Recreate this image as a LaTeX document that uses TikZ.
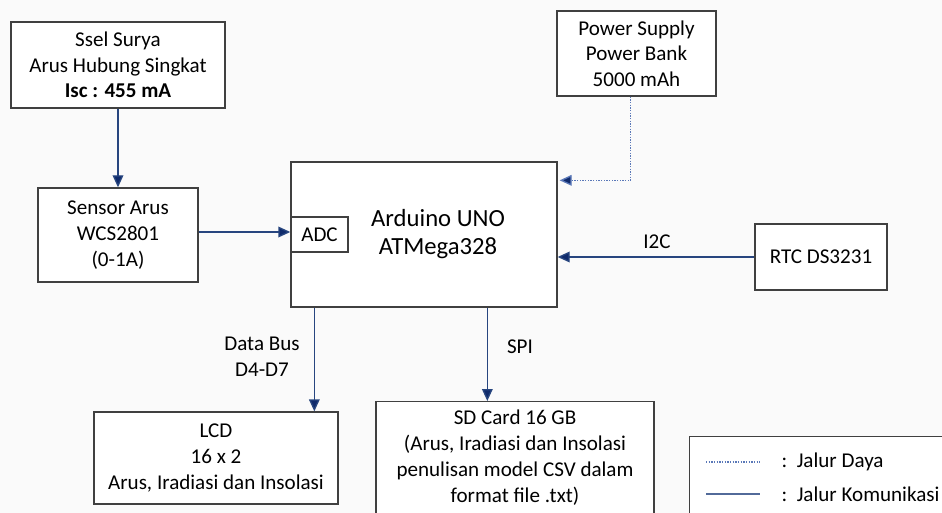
\documentclass[tikz,border=0pt]{standalone}
\usepackage{fontspec}
\setmainfont{Carlito}
\usetikzlibrary{arrows.meta, positioning, calc}
\definecolor{cnavy}{HTML}{0F2A6B}
\definecolor{cline}{HTML}{27457F}
\definecolor{cdot}{HTML}{5A78B8}
\definecolor{cgrey}{HTML}{404040}
\tikzset{
  every picture/.style={font=\fontsize{15.8}{19.3}\selectfont},
  box/.style={draw=cgrey, fill=white, line width=1pt, align=center, inner sep=2pt},
  arrow/.style={-{Triangle[length=9pt, width=8pt, fill=cnavy]}, draw=cline, line width=1pt},
  power/.style={-{Triangle[length=9pt, width=8pt, fill=cnavy]}, draw=cdot, line width=1pt, densely dotted},
  note/.style={align=center, inner sep=1pt},
}
\begin{document}
\begin{tikzpicture}[x=0.75pt, y=-0.75pt]
  \clip (0,0) rectangle (942,513);
  \fill[black!2] (0,0) rectangle (942,513);
  % blocks
  \node[box, minimum width=214*0.75pt, minimum height=86*0.75pt] (ssel) at (118,65)
    {Ssel Surya\\ Arus Hubung Singkat\\ \textbf{Isc : 455 mA}};
  \node[box, minimum width=160*0.75pt, minimum height=94*0.75pt] (sensor) at (118,235)
    {Sensor Arus\\ WCS2801\\ (0-1A)};
  \node[box, minimum width=266*0.75pt, minimum height=145*0.75pt] (ard) at (424,234.5) {};
  \node[note, font=\fontsize{18.5}{21}\selectfont] (ardtxt) at (438,234) {Arduino UNO\\ ATMega328};
  \node[box, minimum width=57*0.75pt, minimum height=35*0.75pt] (adc) at (319.5,234.5) {ADC};
  \node[box, minimum width=159*0.75pt, minimum height=85*0.75pt] (pwr) at (636.5,53.5)
    {Power Supply\\ Power Bank\\ 5000 mAh};
  \node[box, minimum width=132*0.75pt, minimum height=66*0.75pt] (rtc) at (821,257) {RTC DS3231};
  \node[box, minimum width=244*0.75pt, minimum height=92*0.75pt] (lcd) at (216,458)
    {LCD\\ 16 x 2\\ Arus, Iradiasi dan Insolasi};
  \node[box, minimum width=278*0.75pt, minimum height=124*0.75pt, anchor=north] (sd) at (515,401) {};
  \node[note, anchor=north, font=\fontsize{15.8}{19.6}\selectfont] (sdtxt) at (515,408)
    {SD Card 16 GB\\ (Arus, Iradiasi dan Insolasi\\ penulisan model CSV dalam\\ format file .txt)};
  % connectors
  \draw[arrow] (ssel) -- (sensor);
  \draw[arrow] (sensor.east |- 0,232) -- (adc.west |- 0,232);
  \coordinate (pin) at ($(ard.north east)+(2,19)$);
  \draw[power] ($(pwr.south)+(-6,0)$) |- (pin);
  \draw[arrow] (rtc.west) -- (ard.east |- rtc.west);
  \coordinate (lcdout) at ($(ard.south west)+(24,0)$);
  \draw[arrow] (lcdout) -- (lcdout |- lcd.north);
  \coordinate (sdout) at ($(ard.south west)+(197,0)$);
  \draw[arrow] (sdout) -- (sdout |- sd.north);
  % labels
  \node[note] (bus) at (262,357) {Data Bus\\ D4-D7};
  \node[note] (spi) at (520,347) {SPI};
  \node[note] (i2c) at (657,242) {I2C};
  % legend
  \node[box, minimum width=270*0.75pt, minimum height=95*0.75pt, anchor=north west] (leg) at (689,436) {};
  \coordinate (d1) at (706,462);
  \coordinate (d2) at (760,462);
  \coordinate (k1) at (706,494);
  \coordinate (k2) at (760,494);
  \draw[draw=cdot, line width=1pt, densely dotted] (d1) -- (d2);
  \draw[draw=cline!80, line width=1.2pt] (k1) -- (k2);
  \node[note, anchor=west] (daya) at (780,462) {:\ \ Jalur Daya};
  \node[note, anchor=west] (kom) at (780,494) {:\ \ Jalur Komunikasi};
\end{tikzpicture}
\end{document}
